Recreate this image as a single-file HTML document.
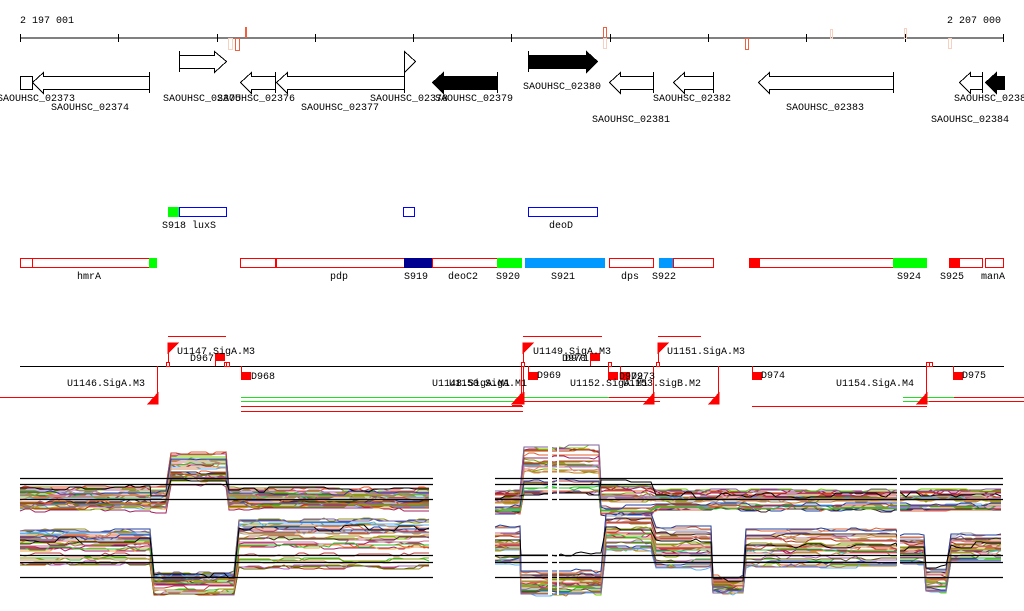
<!DOCTYPE html>
<html><head><meta charset="utf-8"><style>
html,body{margin:0;padding:0;background:#fff}
svg{display:block}
text{font-family:"Liberation Mono",monospace;font-size:10px;fill:#000}
</style></head><body>
<svg id="s" width="1024" height="611" viewBox="0 0 1024 611" xmlns="http://www.w3.org/2000/svg">
<g shape-rendering="crispEdges">
<text x="20" y="23">2 197 001</text>
<text x="1001" y="23" text-anchor="end">2 207 000</text>
<line x1="20" y1="38" x2="1004" y2="38" stroke="#000"/>
<g stroke="#000">
<line x1="20.5" y1="34" x2="20.5" y2="42"/><line x1="118.5" y1="34" x2="118.5" y2="42"/><line x1="217.5" y1="34" x2="217.5" y2="42"/><line x1="315.5" y1="34" x2="315.5" y2="42"/><line x1="413.5" y1="34" x2="413.5" y2="42"/><line x1="511.5" y1="34" x2="511.5" y2="42"/><line x1="610.5" y1="34" x2="610.5" y2="42"/><line x1="708.5" y1="34" x2="708.5" y2="42"/><line x1="806.5" y1="34" x2="806.5" y2="42"/><line x1="905.5" y1="34" x2="905.5" y2="42"/><line x1="1003.5" y1="34" x2="1003.5" y2="42"/>
</g>
<g fill="none">
<rect x="228.5" y="38.5" width="4" height="11" stroke="#f8d0c0"/>
<rect x="235.5" y="38.5" width="4" height="12" stroke="#f06040"/>
<rect x="245" y="27" width="2" height="11" fill="#f06040" stroke="none"/>
<rect x="603.5" y="27.5" width="3" height="11" stroke="#f06040"/>
<rect x="603.5" y="38.5" width="3" height="10" stroke="#f8d0c0"/>
<rect x="745.5" y="38.5" width="3" height="11" stroke="#f06040"/>
<rect x="830.5" y="29.5" width="2" height="9" stroke="#f8d0c0"/>
<rect x="904.5" y="28.5" width="2" height="10" stroke="#f8d0c0"/>
<rect x="948.5" y="38.5" width="3" height="10" stroke="#f8d0c0"/>
</g>
<g stroke="#000" fill="#fff">
<polygon points="179.5,55.5 214.5,55.5 214.5,51.5 226.5,61.5 214.5,72.5 214.5,68.5 179.5,68.5"/>
<line x1="179.5" y1="51" x2="179.5" y2="72"/>
<polygon points="404.5,51.5 415.5,61.5 404.5,72.5"/>
<polygon points="528.5,55.5 586.5,55.5 586.5,51.5 597.5,61.5 586.5,72.5 586.5,68.5 528.5,68.5" fill="#000"/>
<line x1="528.5" y1="51" x2="528.5" y2="72"/>
<rect x="20.5" y="76.5" width="12" height="13"/>
<polygon points="149.5,76.5 43.5,76.5 43.5,72.5 32.5,82.5 43.5,93.5 43.5,89.5 149.5,89.5"/>
<line x1="149.5" y1="72" x2="149.5" y2="93"/>
<polygon points="275.5,76.5 251.5,76.5 251.5,72.5 240.5,82.5 251.5,93.5 251.5,89.5 275.5,89.5"/>
<line x1="275.5" y1="72" x2="275.5" y2="93"/>
<polygon points="404.5,76.5 287.5,76.5 287.5,72.5 276.5,82.5 287.5,93.5 287.5,89.5 404.5,89.5"/>
<line x1="404.5" y1="72" x2="404.5" y2="93"/>
<polygon points="497.5,76.5 443.5,76.5 443.5,72.5 432.5,82.5 443.5,93.5 443.5,89.5 497.5,89.5" fill="#000"/>
<line x1="497.5" y1="72" x2="497.5" y2="93"/>
<polygon points="653.5,76.5 620.5,76.5 620.5,72.5 609.5,82.5 620.5,93.5 620.5,89.5 653.5,89.5"/>
<line x1="653.5" y1="72" x2="653.5" y2="93"/>
<polygon points="713.5,76.5 684.5,76.5 684.5,72.5 673.5,82.5 684.5,93.5 684.5,89.5 713.5,89.5"/>
<line x1="713.5" y1="72" x2="713.5" y2="93"/>
<polygon points="893.5,76.5 769.5,76.5 769.5,72.5 758.5,82.5 769.5,93.5 769.5,89.5 893.5,89.5"/>
<line x1="893.5" y1="72" x2="893.5" y2="93"/>
<polygon points="982.5,76.5 970.5,76.5 970.5,72.5 959.5,82.5 970.5,93.5 970.5,89.5 982.5,89.5"/>
<line x1="982.5" y1="72" x2="982.5" y2="93"/>
<polygon points="1004.5,76.5 996.5,76.5 996.5,72.5 985.5,82.5 996.5,93.5 996.5,89.5 1004.5,89.5" fill="#000"/>
</g>
<text x="-3" y="101">SAOUHSC_02373</text>
<text x="51" y="110">SAOUHSC_02374</text>
<text x="163" y="101">SAOUHSC_02375</text>
<text x="217" y="101">SAOUHSC_02376</text>
<text x="301" y="110">SAOUHSC_02377</text>
<text x="370" y="101">SAOUHSC_02378</text>
<text x="435" y="101">SAOUHSC_02379</text>
<text x="523" y="89">SAOUHSC_02380</text>
<text x="592" y="122">SAOUHSC_02381</text>
<text x="653" y="101">SAOUHSC_02382</text>
<text x="786" y="110">SAOUHSC_02383</text>
<text x="954" y="101">SAOUHSC_02384</text>
<text x="931" y="122">SAOUHSC_02384</text>
<rect x="168" y="207" width="11" height="10" fill="#00ff00"/>
<rect x="179.5" y="207.5" width="47" height="9" fill="none" stroke="#0000ff"/>
<rect x="403.5" y="207.5" width="11" height="9" fill="none" stroke="#0000ff"/>
<rect x="528.5" y="207.5" width="69" height="9" fill="none" stroke="#0000ff"/>
<text x="162" y="228">S918 luxS</text>
<text x="549" y="228">deoD</text>
<g fill="none" stroke="#ff0000">
<rect x="20.5" y="258.5" width="12" height="9"/><rect x="32.5" y="258.5" width="117" height="9"/>
<rect x="240.5" y="258.5" width="35" height="9"/><rect x="276.5" y="258.5" width="128" height="9"/>
<rect x="432.5" y="258.5" width="65" height="9"/>
<rect x="609.5" y="258.5" width="44" height="9"/>
<rect x="673.5" y="258.5" width="40" height="9"/>
<rect x="759.5" y="258.5" width="134" height="9"/>
<rect x="959.5" y="258.5" width="23" height="9"/>
<rect x="985.5" y="258.5" width="18" height="9"/>
</g>
<rect x="149" y="258" width="8" height="10" fill="#00ff00"/>
<rect x="404" y="258" width="28" height="10" fill="#000090"/>
<rect x="497" y="258" width="25" height="10" fill="#00ff00"/>
<rect x="525" y="258" width="80" height="10" fill="#0099ff"/>
<rect x="659" y="258" width="14" height="10" fill="#0099ff"/>
<rect x="749" y="258" width="10" height="10" fill="#ff0000"/>
<rect x="893" y="258" width="34" height="10" fill="#00ff00"/>
<rect x="949" y="258" width="11" height="10" fill="#ff0000"/>
<text x="77" y="279">hmrA</text><text x="330" y="279">pdp</text><text x="404" y="279">S919</text>
<text x="448" y="279">deoC2</text><text x="496" y="279">S920</text><text x="551" y="279">S921</text>
<text x="621" y="279">dps</text><text x="652" y="279">S922</text><text x="897" y="279">S924</text>
<text x="940" y="279">S925</text><text x="981" y="279">manA</text>
<line x1="20" y1="366.5" x2="1004" y2="366.5" stroke="#000"/>
<g stroke="#ff0000">
<line x1="168" y1="336.5" x2="226" y2="336.5"/>
<line x1="523" y1="336.5" x2="602" y2="336.5"/>
<line x1="658" y1="336.5" x2="701" y2="336.5"/>
<line x1="0" y1="397.5" x2="157" y2="397.5"/>
<line x1="241" y1="397.5" x2="523" y2="397.5" style="stroke:#22dd22"/>
<line x1="241" y1="401.5" x2="523" y2="401.5" style="stroke:#22dd22"/>
<line x1="241" y1="406.5" x2="523" y2="406.5"/>
<line x1="241" y1="411.5" x2="523" y2="411.5"/>
<line x1="512" y1="397.5" x2="609" y2="397.5" style="stroke:#22dd22"/>
<line x1="609" y1="397.5" x2="719" y2="397.5"/>
<line x1="512" y1="401.5" x2="523" y2="401.5" style="stroke:#22dd22"/>
<line x1="523" y1="401.5" x2="660" y2="401.5"/>
<line x1="512" y1="405.5" x2="522" y2="405.5"/>
<line x1="512" y1="411.5" x2="522" y2="411.5"/>
<line x1="752" y1="406.5" x2="927" y2="406.5"/>
<line x1="903" y1="397.5" x2="954" y2="397.5" style="stroke:#22dd22"/>
<line x1="954" y1="397.5" x2="1024" y2="397.5"/>
<line x1="903" y1="401.5" x2="929" y2="401.5" style="stroke:#22dd22"/>
<line x1="929" y1="401.5" x2="1024" y2="401.5"/>
</g>
<g id="reg" fill="#ff0000" stroke="#ff0000"></g>
<text x="177" y="354">U1147.SigA.M3</text><text x="190" y="361">D967</text>
<text x="67" y="386">U1146.SigA.M3</text><text x="251" y="379">D968</text>
<text x="432" y="386">U1148.SigA.M1</text><text x="449" y="386">U1150.SigA.M1</text>
<text x="533" y="354">U1149.SigA.M3</text><text x="562" y="361">D970</text><text x="565" y="361">D971</text>
<text x="537" y="378">D969</text><text x="570" y="386">U1152.SigA.M1</text>
<text x="619" y="379">D972</text><text x="631" y="379">D973</text>
<text x="623" y="386">U1153.SigB.M2</text>
<text x="667" y="354">U1151.SigA.M3</text>
<text x="761" y="378">D974</text><text x="836" y="386">U1154.SigA.M4</text><text x="962" y="378">D975</text>
</g>
<g id="plots"></g>
</svg>
<script>
var NS="http://www.w3.org/2000/svg",reg=document.getElementById("reg"),P=document.getElementById("plots");
function el(p,t,a){var e=document.createElementNS(NS,t);for(var k in a)e.setAttribute(k,a[k]);p.appendChild(e);return e;}
[[168],[523],[658]].forEach(function(a){var x=a[0];el(reg,"line",{x1:x+.5,y1:343,x2:x+.5,y2:366});el(reg,"polygon",{points:x+",343 "+(x+10)+",343 "+x+",353"});el(reg,"rect",{x:x-1.5,y:362.5,width:3,height:4,fill:"#fff"});});
[[157],[523],[521],[653],[718],[926]].forEach(function(a){var x=a[0];el(reg,"line",{x1:x+.5,y1:366,x2:x+.5,y2:404});el(reg,"polygon",{points:(x+1)+",393 "+(x+1)+",404 "+(x-9)+",404"});});
[[241,372],[215,353],[590,353],[528,372],[608,372],[620,372],[752,372],[953,372]].forEach(function(a){el(reg,"line",{x1:a[0]+.5,y1:366,x2:a[0]+.5,y2:a[1]});el(reg,"rect",{x:a[0],y:a[1],width:10,height:8,stroke:"none"});});
[[224],[226],[608],[926],[929]].forEach(function(a){el(reg,"rect",{x:a[0]+.5,y:362.5,width:3,height:4,fill:"#fff"});});
var seed=7;function r(){seed=(seed*16807)%2147483647;return seed/2147483647;}
var cols=["#e06030","#c08020","#80a000","#a02060","#60b0f0","#d07090","#909020","#30c030","#c04040","#8060a0","#d09060","#2040a0","#f0a040","#a0a0a0","#b03010","#70d000","#b060c0","#606000","#e08070","#402020"];
function panel(segs,x0,x1,hl){
 for(var i=0;i<32;i++){var off=(r()-0.5),c=cols[i%cols.length],pts=[],v;
  segs.forEach(function(s){var base=s[2]+off*s[3];v=base;for(var x=s[0];x<=s[1];x+=5){if(r()<0.3)v=base+(r()-0.5)*4;pts.push(x+","+v.toFixed(0));}});
  el(P,"polyline",{points:pts.join(" "),fill:"none",stroke:c,"stroke-width":1});}
 var pts=[];segs.forEach(function(s){var v=s[4];for(var x=s[0];x<=s[1];x+=5){if(r()<0.3)v=s[4]+(r()-0.5)*6;pts.push(x+","+v.toFixed(0));}});
 el(P,"polyline",{points:pts.join(" "),fill:"none",stroke:"#000","stroke-width":1});
 hl.forEach(function(y){el(P,"line",{x1:x0,y1:y+.5,x2:x1,y2:y+.5,stroke:"#000","stroke-width":1.2});});
}
panel([[20,150,500,24,488],[151,170,500,26,494],[171,228,470,34,482],[229,433,500,22,490]],20,433,[478,484,499]);
panel([[495,523,502,22,498],[524,600,470,48,495],[601,655,500,30,480],[656,1003,500,20,495]],495,1003,[478,484,499]);
panel([[20,153,548,35,540],[154,238,584,22,575],[239,433,545,50,528]],20,433,[555,562,577]);
panel([[495,520,545,40,540],[521,605,583,25,555],[606,655,532,40,527],[656,712,548,45,540],[713,745,585,18,580],[746,898,548,40,545],[899,925,550,30,549],[926,950,580,25,568],[951,1003,548,30,545]],495,1003,[555,562,577]);
[[548,4],[557,2],[897,3]].forEach(function(g){el(P,"rect",{x:g[0],y:445,width:g[1],height:150,fill:"#fff"});});
</script>
</body></html>
